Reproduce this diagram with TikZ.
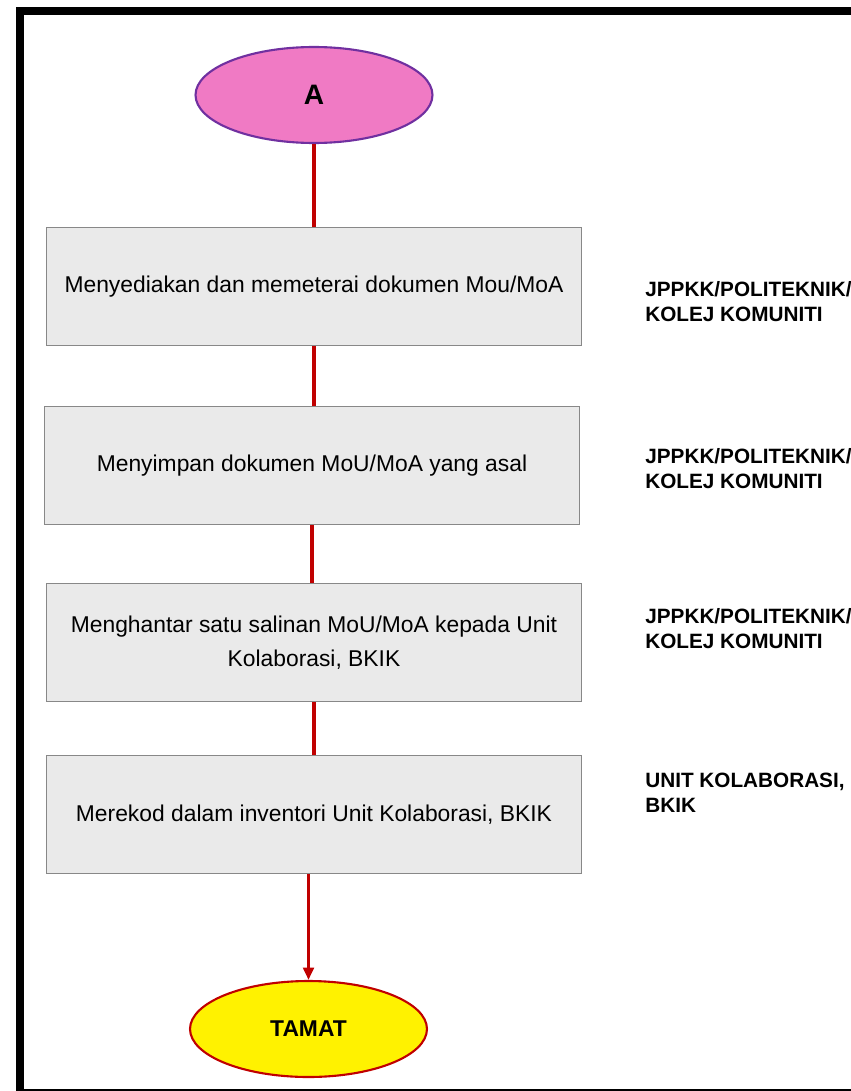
\documentclass[tikz,border=0pt]{standalone}
\usepackage{fontspec}
\setmainfont{Liberation Sans}
\usepackage{tikz}
\usetikzlibrary{calc,arrows.meta,shapes.geometric}

\definecolor{merahjambu}{RGB}{240,122,196}
\definecolor{ungu}{RGB}{112,48,160}
\definecolor{merah}{RGB}{192,0,0}
\definecolor{kelabu}{RGB}{234,234,234}
\definecolor{garis}{RGB}{136,136,136}

\begin{document}
\begin{tikzpicture}[x=0.02cm,y=-0.02cm,>={Triangle[length=7pt,width=6pt]},
	kotak/.style={draw=garis,line width=0.8pt,fill=kelabu,minimum width=10.7cm,minimum height=2.36cm,
		inner sep=0pt,align=center,font=\fontsize{13}{19}\selectfont},
	bujur/.style={ellipse,line width=1.2pt,minimum width=4.74cm,minimum height=1.92cm,
		inner sep=0pt,font=\fontsize{13}{15}\selectfont\bfseries},
	aliran/.style={merah,line width=1.8pt},
	pihak/.style={anchor=north west,inner sep=0pt,align=left,font=\fontsize{11.8}{14.2}\selectfont\bfseries}]
			\useasboundingbox (0,0) rectangle (851,1091);
			
			% bingkai
			\draw[line width=0.16cm] (880,1093) -- (20,1093) -- (20,11) -- (880,11);
			
			\node[bujur,draw=ungu,fill=merahjambu,font=\fontsize{16}{18}\selectfont\bfseries] (mula) at (314,95) {A};
			\node[kotak] (l1) at (314,286.5) {Menyediakan dan memeterai dokumen Mou/MoA};
			\node[kotak] (l2) at (312,465.5) {Menyimpan dokumen MoU/MoA yang asal};
			\node[kotak] (l3) at (314,642.5) {Menghantar satu salinan MoU/MoA kepada Unit\\Kolaborasi, BKIK};
			\node[kotak] (l4) at (314,814.5) {Merekod dalam inventori Unit Kolaborasi, BKIK};
			\node[bujur,draw=merah,fill=yellow] (tamat) at (308.5,1029) {TAMAT};
			
			% aliran antara langkah
			\draw[aliran] (mula.south) -- (mula.south |- l1.north);
			\draw[aliran] (l1.south) -- (l1.south |- l2.north);
			\draw[aliran] (l2.south) -- (l2.south |- l3.north);
			\draw[aliran] (l3.south) -- (l3.south |- l4.north);
			\draw[aliran,->] (l4.south -| tamat.north) -- (tamat.north);
			
			% pihak yang bertanggungjawab
			\node[pihak] (p1) at (645,281) {JPPKK/POLITEKNIK/\\KOLEJ KOMUNITI};
			\node[pihak] (p2) at (645,448) {JPPKK/POLITEKNIK/\\KOLEJ KOMUNITI};
			\node[pihak] (p3) at (645,608) {JPPKK/POLITEKNIK/\\KOLEJ KOMUNITI};
			\node[pihak] (p4) at (645,773) {UNIT KOLABORASI,\\BKIK};
		\end{tikzpicture}
\end{document}
